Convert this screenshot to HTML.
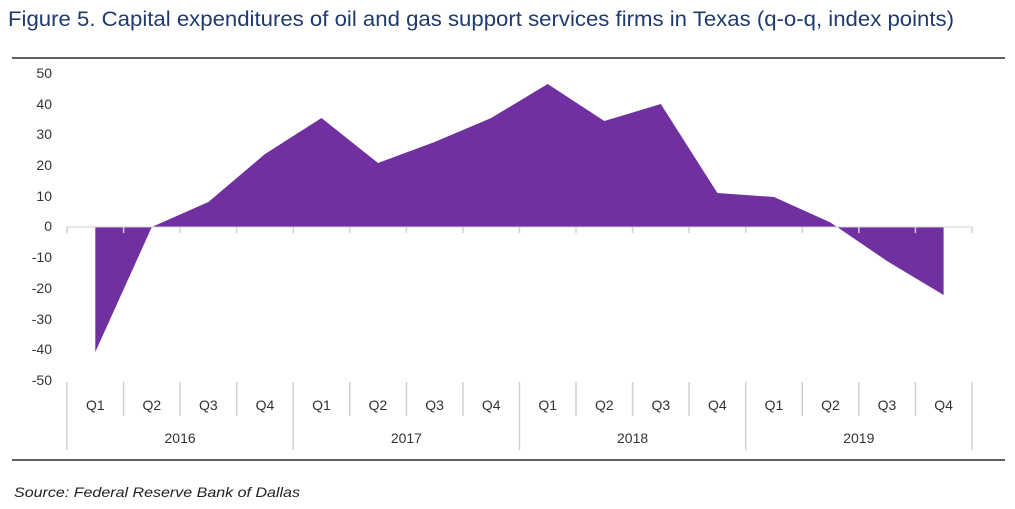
<!DOCTYPE html>
<html><head><meta charset="utf-8"><style>
html,body{margin:0;padding:0;background:#fff;}
body{width:1015px;height:504px;overflow:hidden;position:relative;font-family:"Liberation Sans",Arial,sans-serif;}
</style></head><body>
<svg width="1015" height="504" xmlns="http://www.w3.org/2000/svg" font-family="Liberation Sans, Arial, sans-serif">
<text x="8" y="26" font-size="21" fill="#1f3a6e" textLength="946" lengthAdjust="spacingAndGlyphs">Figure 5. Capital expenditures of oil and gas support services firms in Texas (q-o-q, index points)</text>
<line x1="12" y1="58" x2="1005" y2="58" stroke="#000" stroke-width="1.2"/>
<line x1="12" y1="460" x2="1005" y2="460" stroke="#000" stroke-width="1.2"/>
<g font-size="14" fill="#333" text-anchor="end">
<text x="52" y="78">50</text><text x="52" y="109">40</text><text x="52" y="139">30</text><text x="52" y="170">20</text><text x="52" y="201">10</text><text x="52" y="231">0</text><text x="52" y="262">-10</text><text x="52" y="293">-20</text><text x="52" y="324">-30</text><text x="52" y="354">-40</text><text x="52" y="385">-50</text>
</g>
<polygon fill="#7030a0" points="95.3,227 95.3,352 151.8,227 208.4,202 265,154 321.5,118 378,163 434.6,142 491.2,118 547.7,84 604.3,121 660.8,104 717.4,193 774,197 830.5,222.5 887,261 943.6,295 943.6,227"/>
<line x1="67" y1="227" x2="972" y2="227" stroke="#d0d0d0" stroke-width="1"/>
<g stroke="#d0d0d0" stroke-width="1.5">
<line x1="67" y1="227" x2="67" y2="233"/><line x1="123.6" y1="227" x2="123.6" y2="233"/><line x1="180.1" y1="227" x2="180.1" y2="233"/><line x1="236.7" y1="227" x2="236.7" y2="233"/><line x1="293.3" y1="227" x2="293.3" y2="233"/><line x1="349.8" y1="227" x2="349.8" y2="233"/><line x1="406.4" y1="227" x2="406.4" y2="233"/><line x1="462.9" y1="227" x2="462.9" y2="233"/><line x1="519.5" y1="227" x2="519.5" y2="233"/><line x1="576" y1="227" x2="576" y2="233"/><line x1="632.6" y1="227" x2="632.6" y2="233"/><line x1="689.1" y1="227" x2="689.1" y2="233"/><line x1="745.7" y1="227" x2="745.7" y2="233"/><line x1="802.3" y1="227" x2="802.3" y2="233"/><line x1="858.8" y1="227" x2="858.8" y2="233"/><line x1="915.4" y1="227" x2="915.4" y2="233"/><line x1="972" y1="227" x2="972" y2="233"/>
<line x1="67" y1="382" x2="67" y2="450"/><line x1="293.3" y1="382" x2="293.3" y2="450"/><line x1="519.5" y1="382" x2="519.5" y2="450"/><line x1="745.7" y1="382" x2="745.7" y2="450"/><line x1="972" y1="382" x2="972" y2="450"/>
<line x1="123.6" y1="382" x2="123.6" y2="416"/><line x1="180.1" y1="382" x2="180.1" y2="416"/><line x1="236.7" y1="382" x2="236.7" y2="416"/>
<line x1="349.8" y1="382" x2="349.8" y2="416"/><line x1="406.4" y1="382" x2="406.4" y2="416"/><line x1="462.9" y1="382" x2="462.9" y2="416"/>
<line x1="576" y1="382" x2="576" y2="416"/><line x1="632.6" y1="382" x2="632.6" y2="416"/><line x1="689.1" y1="382" x2="689.1" y2="416"/>
<line x1="802.3" y1="382" x2="802.3" y2="416"/><line x1="858.8" y1="382" x2="858.8" y2="416"/><line x1="915.4" y1="382" x2="915.4" y2="416"/>
</g>
<g font-size="14" fill="#333" text-anchor="middle">
<text x="95.3" y="410">Q1</text><text x="151.8" y="410">Q2</text><text x="208.4" y="410">Q3</text><text x="265" y="410">Q4</text>
<text x="321.5" y="410">Q1</text><text x="378" y="410">Q2</text><text x="434.6" y="410">Q3</text><text x="491.2" y="410">Q4</text>
<text x="547.7" y="410">Q1</text><text x="604.3" y="410">Q2</text><text x="660.8" y="410">Q3</text><text x="717.4" y="410">Q4</text>
<text x="774" y="410">Q1</text><text x="830.5" y="410">Q2</text><text x="887" y="410">Q3</text><text x="943.6" y="410">Q4</text>
<text x="180.1" y="443">2016</text><text x="406.4" y="443">2017</text><text x="632.6" y="443">2018</text><text x="858.8" y="443">2019</text>
</g>
<text x="14" y="497" font-size="14" font-style="italic" fill="#222" textLength="286" lengthAdjust="spacingAndGlyphs">Source: Federal Reserve Bank of Dallas</text>
</svg>
</body></html>
